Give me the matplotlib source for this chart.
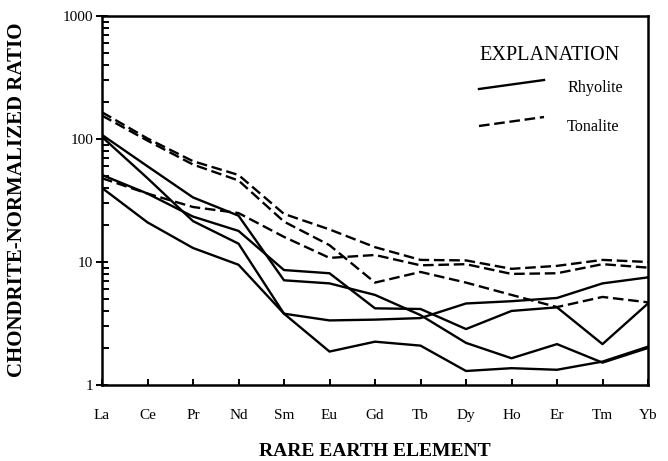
import numpy as np
import matplotlib.pyplot as plt
from matplotlib.lines import Line2D
from matplotlib.ticker import LogLocator, NullFormatter

plt.rcParams['font.family'] = 'Liberation Serif'

# Chondrite-normalized REE patterns
elements = ['La', 'Ce', 'Pr', 'Nd', 'Sm', 'Eu', 'Gd', 'Tb', 'Dy', 'Ho', 'Er', 'Tm', 'Yb']

rhyolite_a = [108, 60, 33.5, 23.8, 7.1, 6.7, 5.4, 3.7, 2.2, 1.65, 2.15, 1.52, 2.0]
rhyolite_b = [104, 48, 21.5, 14.1, 3.8, 1.87, 2.25, 2.09, 1.3, 1.37, 1.33, 1.55, 2.05]
rhyolite_c = [51, 36, 23.4, 17.9, 8.6, 8.1, 4.2, 4.15, 2.85, 4.0, 4.28, 2.15, 4.6]
rhyolite_d = [40, 21, 13, 9.5, 3.8, 3.35, 3.4, 3.5, 4.6, 4.8, 5.1, 6.7, 7.5]

tonalite_a = [165, 101, 66, 51, 24.6, 18.4, 13.2, 10.4, 10.3, 8.8, 9.3, 10.4, 10.0]
tonalite_b = [155, 97, 62, 46, 21.3, 13.7, 6.8, 8.3, 6.8, 5.4, 4.3, 5.2, 4.7]
tonalite_c = [48, 36, 28, 25, 16, 10.8, 11.4, 9.4, 9.6, 8.0, 8.1, 9.6, 9.0]

rhyolite = [rhyolite_a, rhyolite_b, rhyolite_c, rhyolite_d]
tonalite = [tonalite_a, tonalite_b, tonalite_c]

lw = 1.7
dash = (4.5, 2)

fig = plt.figure(figsize=(6.68, 4.61), dpi=100)
ax = fig.add_axes([102/668, 1 - 385/461, 546/668, 369/461])

x = np.arange(len(elements))
for r in rhyolite:
    ax.plot(x, r, color='black', lw=lw)
for t in tonalite:
    ax.plot(x, t, color='black', lw=lw, dashes=dash)

ax.set_yscale('log')
ax.set_ylim(1, 1000)
ax.set_xlim(0, len(elements) - 1)
ax.set_xticks(x)
ax.set_xticklabels(elements)
ax.set_yticks([1, 10, 100, 1000])
ax.set_yticklabels(['1', '10', '100', '1000'])
ax.yaxis.set_minor_locator(LogLocator(base=10, subs=range(2, 10)))
ax.yaxis.set_minor_formatter(NullFormatter())

ax.tick_params(axis='y', which='major', direction='inout', length=8.6, width=1.4,
               labelsize=11, pad=2)
ax.tick_params(axis='y', which='minor', direction='in', length=5, width=1.4)
ax.tick_params(axis='x', direction='in', length=4.3, width=1.4, labelsize=11, pad=17)
for s in ax.spines.values():
    s.set_linewidth(1.8)

fig.text(375/668, 1 - 451/461, 'RARE EARTH ELEMENT', ha='center', va='center',
         fontsize=14, fontweight='bold')
fig.text(17/668, 1 - 200/461, 'CHONDRITE-NORMALIZED RATIO', ha='center', va='center',
         rotation=90, fontsize=15, fontweight='bold')

# explanation box
fig.text(550/668, 1 - 55/461, 'EXPLANATION', ha='center', va='center', fontsize=14.6)
fig.add_artist(Line2D([479/668, 544/668], [1 - 89/461, 1 - 80/461],
                      transform=fig.transFigure, color='black', lw=lw))
fig.add_artist(Line2D([479/668, 544/668], [1 - 126/461, 1 - 117/461],
                      transform=fig.transFigure, color='black', lw=lw, dashes=dash))
fig.text(567/668, 1 - 88/461, 'Rhyolite', ha='left', va='center', fontsize=11.6)
fig.text(567/668, 1 - 127/461, 'Tonalite', ha='left', va='center', fontsize=11.6)

plt.savefig('out.png', dpi=100)
